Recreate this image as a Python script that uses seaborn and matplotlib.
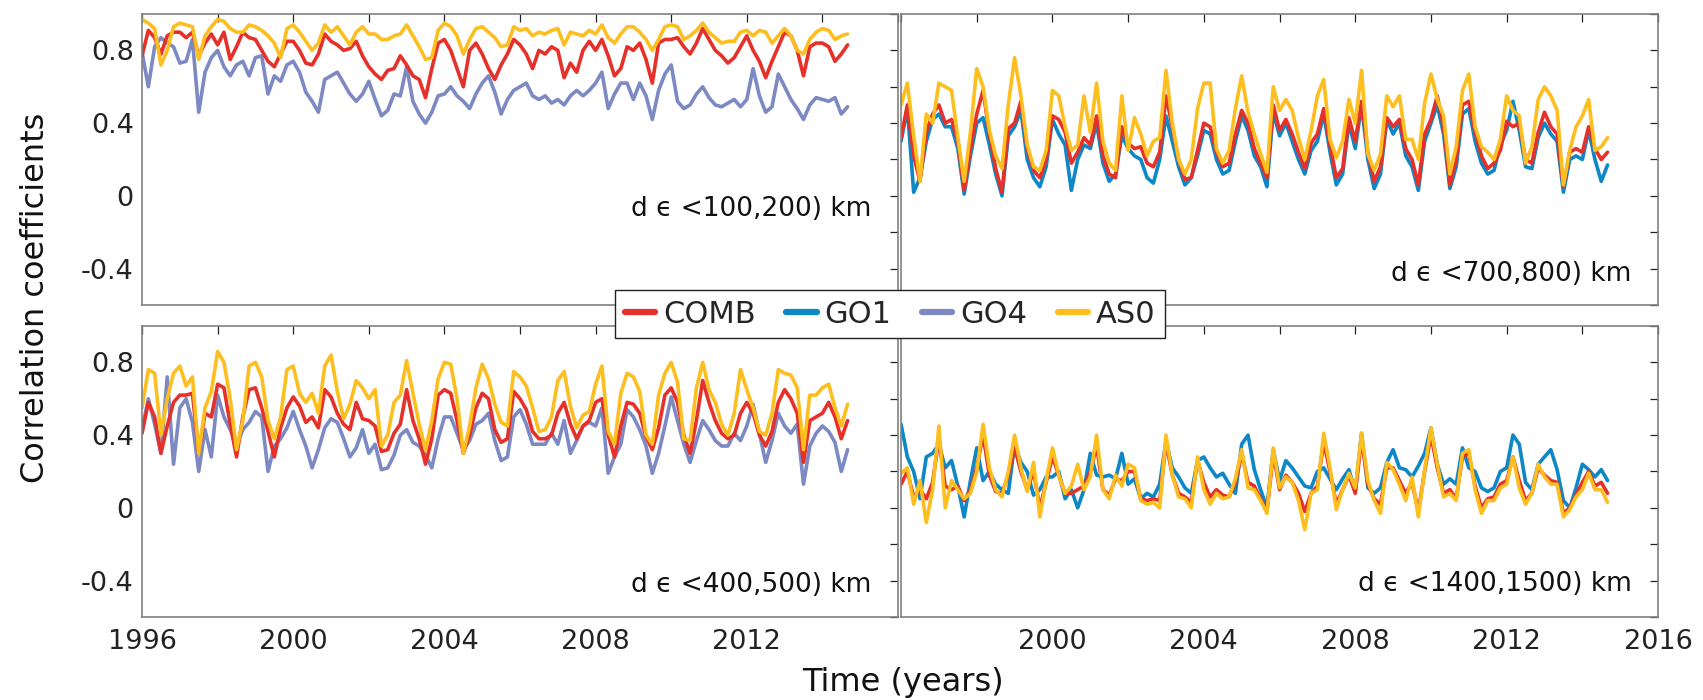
import numpy as np
import matplotlib
matplotlib.use("Agg")
import matplotlib.pyplot as plt
from matplotlib.lines import Line2D
import seaborn as sns

# ---------------- data (bimonthly samples, Jan 1996 .. Sep 2014) ----------------
start_year = 1996
n_samples = 113
time = start_year + np.arange(n_samples) / 6.0

# panel 1: d in <100,200) km
tl_as0 = [0.97, 0.95, 0.92, 0.72, 0.80, 0.93,  0.95, 0.94, 0.93, 0.75, 0.88, 0.93,
          0.97, 0.96, 0.92, 0.90, 0.90, 0.94,  0.93, 0.91, 0.88, 0.84, 0.76, 0.92,
          0.94, 0.90, 0.85, 0.80, 0.84, 0.94,  0.90, 0.93, 0.88, 0.83, 0.90, 0.93,
          0.89, 0.89, 0.86, 0.86, 0.88, 0.89,  0.94, 0.88, 0.82, 0.75, 0.76, 0.91,
          0.95, 0.93, 0.88, 0.78, 0.86, 0.92,  0.93, 0.90, 0.87, 0.82, 0.83, 0.93,
          0.91, 0.92, 0.88, 0.90, 0.89, 0.91,  0.92, 0.83, 0.90, 0.89, 0.88, 0.91,
          0.89, 0.94, 0.87, 0.84, 0.89, 0.93,  0.93, 0.90, 0.86, 0.80, 0.86, 0.93,
          0.94, 0.93, 0.86, 0.88, 0.91, 0.95,  0.90, 0.87, 0.84, 0.85, 0.85, 0.90,
          0.91, 0.88, 0.91, 0.90, 0.84, 0.88,  0.92, 0.88, 0.80, 0.78, 0.86, 0.90,
          0.92, 0.91, 0.86, 0.88, 0.89]
tl_comb = [0.77, 0.91, 0.87, 0.78, 0.88, 0.90,  0.90, 0.87, 0.90, 0.77, 0.84, 0.89,
           0.83, 0.90, 0.75, 0.82, 0.90, 0.87,  0.86, 0.80, 0.74, 0.71, 0.78, 0.85,
           0.85, 0.80, 0.73, 0.72, 0.78, 0.89,  0.85, 0.83, 0.80, 0.81, 0.85, 0.77,
           0.71, 0.67, 0.64, 0.69, 0.70, 0.77,  0.72, 0.66, 0.64, 0.54, 0.70, 0.84,
           0.86, 0.80, 0.70, 0.60, 0.80, 0.84,  0.78, 0.70, 0.64, 0.72, 0.78, 0.86,
           0.83, 0.78, 0.70, 0.80, 0.78, 0.82,  0.80, 0.65, 0.73, 0.68, 0.80, 0.85,
           0.80, 0.86, 0.77, 0.66, 0.70, 0.82,  0.80, 0.84, 0.75, 0.62, 0.84, 0.86,
           0.86, 0.87, 0.82, 0.78, 0.84, 0.92,  0.86, 0.80, 0.77, 0.73, 0.76, 0.82,
           0.88, 0.80, 0.74, 0.65, 0.74, 0.82,  0.90, 0.88, 0.80, 0.66, 0.82, 0.84,
           0.84, 0.82, 0.74, 0.78, 0.83]
tl_go4 = [0.79, 0.60, 0.82, 0.87, 0.84, 0.82,  0.73, 0.74, 0.86, 0.46, 0.68, 0.76,
          0.80, 0.71, 0.66, 0.72, 0.74, 0.66,  0.76, 0.77, 0.56, 0.66, 0.63, 0.72,
          0.74, 0.68, 0.57, 0.52, 0.46, 0.64,  0.66, 0.68, 0.62, 0.56, 0.52, 0.56,
          0.63, 0.53, 0.44, 0.47, 0.56, 0.55,  0.71, 0.52, 0.45, 0.40, 0.46, 0.55,
          0.56, 0.60, 0.55, 0.52, 0.48, 0.56,  0.62, 0.66, 0.57, 0.45, 0.53, 0.58,
          0.60, 0.62, 0.55, 0.53, 0.55, 0.51,  0.53, 0.50, 0.55, 0.58, 0.55, 0.58,
          0.62, 0.68, 0.48, 0.56, 0.62, 0.62,  0.53, 0.62, 0.55, 0.42, 0.58, 0.67,
          0.72, 0.52, 0.48, 0.50, 0.56, 0.60,  0.54, 0.50, 0.49, 0.51, 0.53, 0.49,
          0.53, 0.70, 0.55, 0.46, 0.49, 0.67,  0.60, 0.53, 0.48, 0.42, 0.50, 0.54,
          0.53, 0.52, 0.54, 0.45, 0.49]

# panel 2: d in <700,800) km
tr_as0 = [0.50, 0.62, 0.33, 0.08, 0.45, 0.40,  0.62, 0.60, 0.58, 0.32, 0.08, 0.35,
          0.70, 0.60, 0.36, 0.22, 0.15, 0.50,  0.76, 0.55, 0.28, 0.16, 0.14, 0.25,
          0.58, 0.55, 0.38, 0.25, 0.28, 0.55,  0.35, 0.62, 0.30, 0.18, 0.14, 0.55,
          0.25, 0.43, 0.34, 0.22, 0.30, 0.32,  0.69, 0.40, 0.20, 0.12, 0.20, 0.48,
          0.62, 0.62, 0.26, 0.18, 0.25, 0.48,  0.66, 0.46, 0.34, 0.23, 0.13, 0.60,
          0.47, 0.53, 0.47, 0.32, 0.20, 0.36,  0.55, 0.64, 0.31, 0.21, 0.30, 0.53,
          0.40, 0.69, 0.23, 0.14, 0.23, 0.55,  0.49, 0.55, 0.31, 0.31, 0.20, 0.51,
          0.67, 0.53, 0.44, 0.12, 0.27, 0.58,  0.67, 0.38, 0.27, 0.24, 0.20, 0.31,
          0.55, 0.47, 0.44, 0.18, 0.27, 0.53,  0.60, 0.55, 0.47, 0.06, 0.25, 0.38,
          0.44, 0.53, 0.25, 0.27, 0.32]
tr_comb = [0.32, 0.50, 0.22, 0.08, 0.35, 0.45,  0.50, 0.40, 0.42, 0.30, 0.03, 0.26,
           0.45, 0.58, 0.34, 0.15, 0.02, 0.37,  0.40, 0.52, 0.26, 0.14, 0.10, 0.20,
           0.44, 0.42, 0.35, 0.18, 0.24, 0.32,  0.28, 0.44, 0.22, 0.12, 0.10, 0.38,
           0.29, 0.26, 0.27, 0.18, 0.16, 0.24,  0.55, 0.38, 0.20, 0.09, 0.10, 0.25,
           0.40, 0.38, 0.24, 0.16, 0.18, 0.34,  0.47, 0.40, 0.26, 0.18, 0.10, 0.50,
           0.36, 0.42, 0.34, 0.24, 0.15, 0.29,  0.34, 0.48, 0.28, 0.10, 0.15, 0.43,
           0.30, 0.52, 0.24, 0.08, 0.16, 0.43,  0.38, 0.42, 0.26, 0.20, 0.06, 0.34,
           0.42, 0.55, 0.38, 0.06, 0.20, 0.50,  0.52, 0.35, 0.22, 0.15, 0.18, 0.25,
           0.41, 0.38, 0.40, 0.20, 0.18, 0.35,  0.46, 0.38, 0.34, 0.05, 0.24, 0.26,
           0.24, 0.38, 0.26, 0.20, 0.24]
tr_go1 = [0.30, 0.48, 0.02, 0.10, 0.30, 0.42,  0.45, 0.38, 0.38, 0.26, 0.01, 0.22,
          0.40, 0.43, 0.28, 0.12, 0.00, 0.33,  0.38, 0.47, 0.20, 0.10, 0.05, 0.16,
          0.42, 0.34, 0.28, 0.03, 0.20, 0.28,  0.26, 0.40, 0.18, 0.08, 0.12, 0.33,
          0.26, 0.22, 0.20, 0.10, 0.07, 0.20,  0.44, 0.30, 0.16, 0.06, 0.10, 0.22,
          0.36, 0.34, 0.20, 0.12, 0.14, 0.30,  0.44, 0.36, 0.22, 0.16, 0.05, 0.46,
          0.33, 0.40, 0.30, 0.20, 0.12, 0.25,  0.30, 0.45, 0.24, 0.06, 0.12, 0.40,
          0.26, 0.50, 0.20, 0.04, 0.12, 0.42,  0.34, 0.40, 0.22, 0.16, 0.03, 0.30,
          0.40, 0.50, 0.34, 0.04, 0.16, 0.45,  0.48, 0.30, 0.18, 0.12, 0.14, 0.28,
          0.36, 0.52, 0.36, 0.16, 0.15, 0.32,  0.40, 0.34, 0.30, 0.02, 0.20, 0.22,
          0.20, 0.36, 0.20, 0.08, 0.17]

# panel 3: d in <400,500) km
bl_as0 = [0.55, 0.76, 0.74, 0.40, 0.60, 0.74,  0.78, 0.67, 0.72, 0.30, 0.55, 0.64,
          0.86, 0.80, 0.60, 0.32, 0.48, 0.78,  0.80, 0.72, 0.48, 0.38, 0.50, 0.76,
          0.78, 0.63, 0.58, 0.63, 0.52, 0.78,  0.84, 0.64, 0.49, 0.57, 0.70, 0.66,
          0.60, 0.65, 0.34, 0.40, 0.58, 0.62,  0.81, 0.63, 0.46, 0.32, 0.48, 0.71,
          0.80, 0.79, 0.60, 0.30, 0.45, 0.66,  0.79, 0.71, 0.57, 0.47, 0.45, 0.75,
          0.72, 0.67, 0.55, 0.42, 0.43, 0.50,  0.70, 0.75, 0.56, 0.44, 0.51, 0.53,
          0.68, 0.78, 0.42, 0.35, 0.63, 0.74,  0.72, 0.64, 0.40, 0.35, 0.62, 0.74,
          0.80, 0.69, 0.38, 0.37, 0.66, 0.80,  0.65, 0.58, 0.46, 0.40, 0.52, 0.76,
          0.65, 0.55, 0.42, 0.40, 0.52, 0.76,  0.74, 0.73, 0.66, 0.32, 0.62, 0.62,
          0.66, 0.68, 0.55, 0.45, 0.57]
bl_comb = [0.41, 0.58, 0.50, 0.30, 0.45, 0.58,  0.62, 0.62, 0.63, 0.30, 0.52, 0.50,
           0.68, 0.66, 0.46, 0.28, 0.50, 0.65,  0.66, 0.55, 0.42, 0.28, 0.44, 0.55,
           0.61, 0.56, 0.47, 0.50, 0.44, 0.65,  0.61, 0.52, 0.46, 0.43, 0.58, 0.49,
           0.48, 0.45, 0.31, 0.32, 0.41, 0.46,  0.65, 0.48, 0.38, 0.24, 0.38, 0.62,
           0.65, 0.63, 0.48, 0.30, 0.40, 0.55,  0.63, 0.60, 0.43, 0.36, 0.38, 0.64,
           0.60, 0.54, 0.42, 0.38, 0.38, 0.40,  0.52, 0.58, 0.46, 0.38, 0.45, 0.48,
           0.58, 0.60, 0.40, 0.28, 0.45, 0.58,  0.57, 0.52, 0.39, 0.32, 0.44, 0.62,
           0.66, 0.58, 0.40, 0.30, 0.48, 0.70,  0.58, 0.48, 0.41, 0.38, 0.40, 0.52,
           0.58, 0.52, 0.40, 0.34, 0.42, 0.58,  0.65, 0.60, 0.52, 0.25, 0.48, 0.50,
           0.52, 0.58, 0.50, 0.38, 0.48]
bl_go4 = [0.43, 0.60, 0.46, 0.30, 0.72, 0.24,  0.55, 0.60, 0.47, 0.20, 0.43, 0.28,
          0.62, 0.50, 0.43, 0.34, 0.43, 0.47,  0.53, 0.50, 0.20, 0.34, 0.38, 0.44,
          0.53, 0.43, 0.34, 0.22, 0.32, 0.44,  0.49, 0.47, 0.38, 0.28, 0.33, 0.43,
          0.30, 0.35, 0.21, 0.22, 0.29, 0.40,  0.43, 0.36, 0.34, 0.29, 0.22, 0.38,
          0.50, 0.50, 0.41, 0.32, 0.37, 0.46,  0.48, 0.52, 0.37, 0.26, 0.28, 0.50,
          0.54, 0.46, 0.35, 0.35, 0.35, 0.41,  0.35, 0.48, 0.30, 0.37, 0.45, 0.47,
          0.45, 0.55, 0.19, 0.28, 0.35, 0.54,  0.50, 0.43, 0.34, 0.19, 0.30, 0.45,
          0.61, 0.48, 0.35, 0.25, 0.37, 0.48,  0.43, 0.37, 0.34, 0.34, 0.41, 0.37,
          0.45, 0.57, 0.41, 0.25, 0.37, 0.52,  0.45, 0.41, 0.46, 0.13, 0.34, 0.41,
          0.45, 0.42, 0.36, 0.20, 0.32]

# panel 4: d in <1400,1500) km
br_as0 = [0.19, 0.22, 0.02, 0.15, -0.08, 0.10,  0.45, 0.00, 0.15, 0.10, 0.05, 0.08,
          0.20, 0.46, 0.22, 0.10, 0.06, 0.20,  0.40, 0.22, 0.09, 0.25, -0.05, 0.15,
          0.33, 0.18, 0.08, 0.12, 0.24, 0.10,  0.17, 0.40, 0.10, 0.05, 0.18, 0.12,
          0.24, 0.22, 0.04, 0.02, 0.03, 0.00,  0.40, 0.18, 0.06, 0.05, 0.00, 0.28,
          0.10, 0.02, 0.08, 0.05, 0.06, 0.16,  0.32, 0.11, 0.10, 0.04, -0.03, 0.33,
          0.11, 0.17, 0.14, 0.04, -0.12, 0.08,  0.10, 0.41, 0.22, -0.01, 0.10, 0.19,
          0.11, 0.41, 0.15, 0.04, -0.03, 0.25,  0.21, 0.13, 0.04, 0.17, -0.05, 0.21,
          0.44, 0.24, 0.06, 0.08, 0.04, 0.30,  0.32, 0.10, -0.03, 0.04, 0.04, 0.11,
          0.13, 0.28, 0.11, 0.02, 0.08, 0.24,  0.17, 0.13, 0.13, -0.05, -0.01, 0.06,
          0.10, 0.19, 0.10, 0.10, 0.03]
br_comb = [0.13, 0.20, 0.06, 0.10, 0.05, 0.14,  0.38, 0.12, 0.10, 0.12, 0.04, 0.10,
           0.22, 0.40, 0.18, 0.09, 0.08, 0.18,  0.33, 0.20, 0.10, 0.20, 0.00, 0.14,
           0.28, 0.18, 0.08, 0.08, 0.10, 0.12,  0.20, 0.34, 0.10, 0.07, 0.16, 0.15,
           0.20, 0.20, 0.05, 0.04, 0.05, 0.04,  0.36, 0.18, 0.08, 0.06, 0.03, 0.26,
           0.14, 0.06, 0.10, 0.07, 0.06, 0.14,  0.30, 0.14, 0.12, 0.05, -0.02, 0.30,
           0.10, 0.18, 0.14, 0.08, -0.02, 0.08,  0.12, 0.36, 0.20, 0.02, 0.10, 0.18,
           0.08, 0.38, 0.13, 0.05, 0.02, 0.22,  0.22, 0.15, 0.08, 0.14, -0.02, 0.20,
           0.40, 0.22, 0.08, 0.10, 0.05, 0.28,  0.30, 0.12, 0.00, 0.05, 0.06, 0.13,
           0.15, 0.28, 0.15, 0.04, 0.08, 0.22,  0.18, 0.15, 0.14, -0.03, 0.00, 0.07,
           0.14, 0.20, 0.12, 0.14, 0.08]
br_go1 = [0.46, 0.28, 0.20, 0.05, 0.28, 0.30,  0.35, 0.22, 0.26, 0.12, -0.05, 0.15,
          0.33, 0.15, 0.20, 0.13, 0.10, 0.08,  0.35, 0.25, 0.20, 0.07, 0.10, 0.17,
          0.17, 0.20, 0.05, 0.10, 0.00, 0.10,  0.30, 0.18, 0.17, 0.18, 0.16, 0.30,
          0.13, 0.16, 0.05, 0.08, 0.06, 0.13,  0.37, 0.22, 0.17, 0.11, 0.08, 0.26,
          0.28, 0.22, 0.17, 0.19, 0.13, 0.08,  0.35, 0.40, 0.21, 0.10, 0.00, 0.32,
          0.15, 0.26, 0.22, 0.17, 0.12, 0.11,  0.20, 0.22, 0.16, 0.10, 0.16, 0.21,
          0.09, 0.41, 0.11, 0.08, 0.11, 0.25,  0.32, 0.22, 0.21, 0.17, 0.23, 0.30,
          0.44, 0.24, 0.13, 0.16, 0.13, 0.33,  0.22, 0.20, 0.11, 0.09, 0.11, 0.20,
          0.22, 0.40, 0.35, 0.14, 0.10, 0.24,  0.28, 0.32, 0.21, 0.04, 0.00, 0.11,
          0.24, 0.21, 0.17, 0.21, 0.15]

series_names = ["COMB", "GO1", "GO4", "AS0"]
panel_labels = ["d \u03f5 <100,200) km", "d \u03f5 <700,800) km",
                "d \u03f5 <400,500) km", "d \u03f5 <1400,1500) km"]
x_ticks = [1996, 1998, 2000, 2002, 2004, 2006, 2008, 2010, 2012, 2014, 2016]
x_labels_left = ["1996", "", "2000", "", "2004", "", "2008", "", "2012", "", ""]
x_labels_right = ["", "", "2000", "", "2004", "", "2008", "", "2012", "", "2016"]
y_ticks = [-0.6, -0.4, -0.2, 0.0, 0.2, 0.4, 0.6, 0.8, 1.0]
y_labels = ["", "-0.4", "", "0", "", "0.4", "", "0.8", ""]

# ---------------- style ----------------
sns.set_style("white")
plt.rcParams["font.family"] = ["DejaVu Sans"]
plt.rcParams["axes.unicode_minus"] = False

colors = {"COMB": "#E6302A", "GO1": "#0D87C6", "GO4": "#7C89C2", "AS0": "#FDBE1F"}
LW = 2.6

fig = plt.figure(figsize=(17.03, 7.0), dpi=100)
pos = {
    "tl": [0.0834, 0.5643, 0.4439, 0.4157],
    "tr": [0.5291, 0.5643, 0.4445, 0.4157],
    "bl": [0.0834, 0.1186, 0.4439, 0.4157],
    "br": [0.5291, 0.1186, 0.4445, 0.4157],
}
panels = [
    ("tl", [("GO4", tl_go4), ("COMB", tl_comb), ("AS0", tl_as0)], panel_labels[0], 0.33),
    ("tr", [("GO1", tr_go1), ("COMB", tr_comb), ("AS0", tr_as0)], panel_labels[1], 0.105),
    ("bl", [("GO4", bl_go4), ("COMB", bl_comb), ("AS0", bl_as0)], panel_labels[2], 0.11),
    ("br", [("GO1", br_go1), ("COMB", br_comb), ("AS0", br_as0)], panel_labels[3], 0.115),
]

for key, lines, label, ly in panels:
    ax = fig.add_axes(pos[key])
    for name, vals in lines:
        sns.lineplot(x=time, y=np.asarray(vals), ax=ax, color=colors[name],
                     lw=LW, legend=False)
    ax.set_xlim(1996, 2016)
    ax.set_ylim(-0.6, 1.0)
    ax.set_xticks(x_ticks)
    ax.set_yticks(y_ticks)
    if key == "bl":
        ax.set_xticklabels(x_labels_left)
    elif key == "br":
        ax.set_xticklabels(x_labels_right)
    else:
        ax.set_xticklabels([""] * len(x_ticks))
    if key in ("tl", "bl"):
        ax.set_yticklabels(y_labels)
    else:
        ax.set_yticklabels([""] * len(y_ticks))
    ax.set_xlabel("")
    ax.set_ylabel("")
    ax.tick_params(direction="in", length=6, width=0.9, colors="#222222",
                   top=True, right=True, labelsize=19.5)
    ax.tick_params(axis="x", pad=9)
    ax.tick_params(axis="y", pad=6)
    for sp in ax.spines.values():
        sp.set_color("#808080")
        sp.set_linewidth(1.2)
    ax.text(0.965, ly, label, transform=ax.transAxes, ha="right", va="center",
            fontsize=19, color="#111111")

fig.text(0.021, 0.574, "Correlation coefficients", rotation=90, ha="center",
         va="center", fontsize=23, color="#111111")
fig.text(0.53, 0.025, "Time (years)", ha="center", va="center", fontsize=23,
         color="#111111")

handles = [Line2D([0], [0], color=colors[n], lw=4.5) for n in series_names]
leg = fig.legend(handles, series_names, loc="center", bbox_to_anchor=(0.5226, 0.5514),
                 ncol=4, fontsize=22, frameon=True, fancybox=False,
                 edgecolor="#222222", handlelength=1.0, handletextpad=0.25,
                 columnspacing=1.0, borderpad=0.3, borderaxespad=0)
leg.get_frame().set_linewidth(1.0)
leg.get_frame().set_alpha(1.0)

fig.savefig("out.png", dpi=100)
